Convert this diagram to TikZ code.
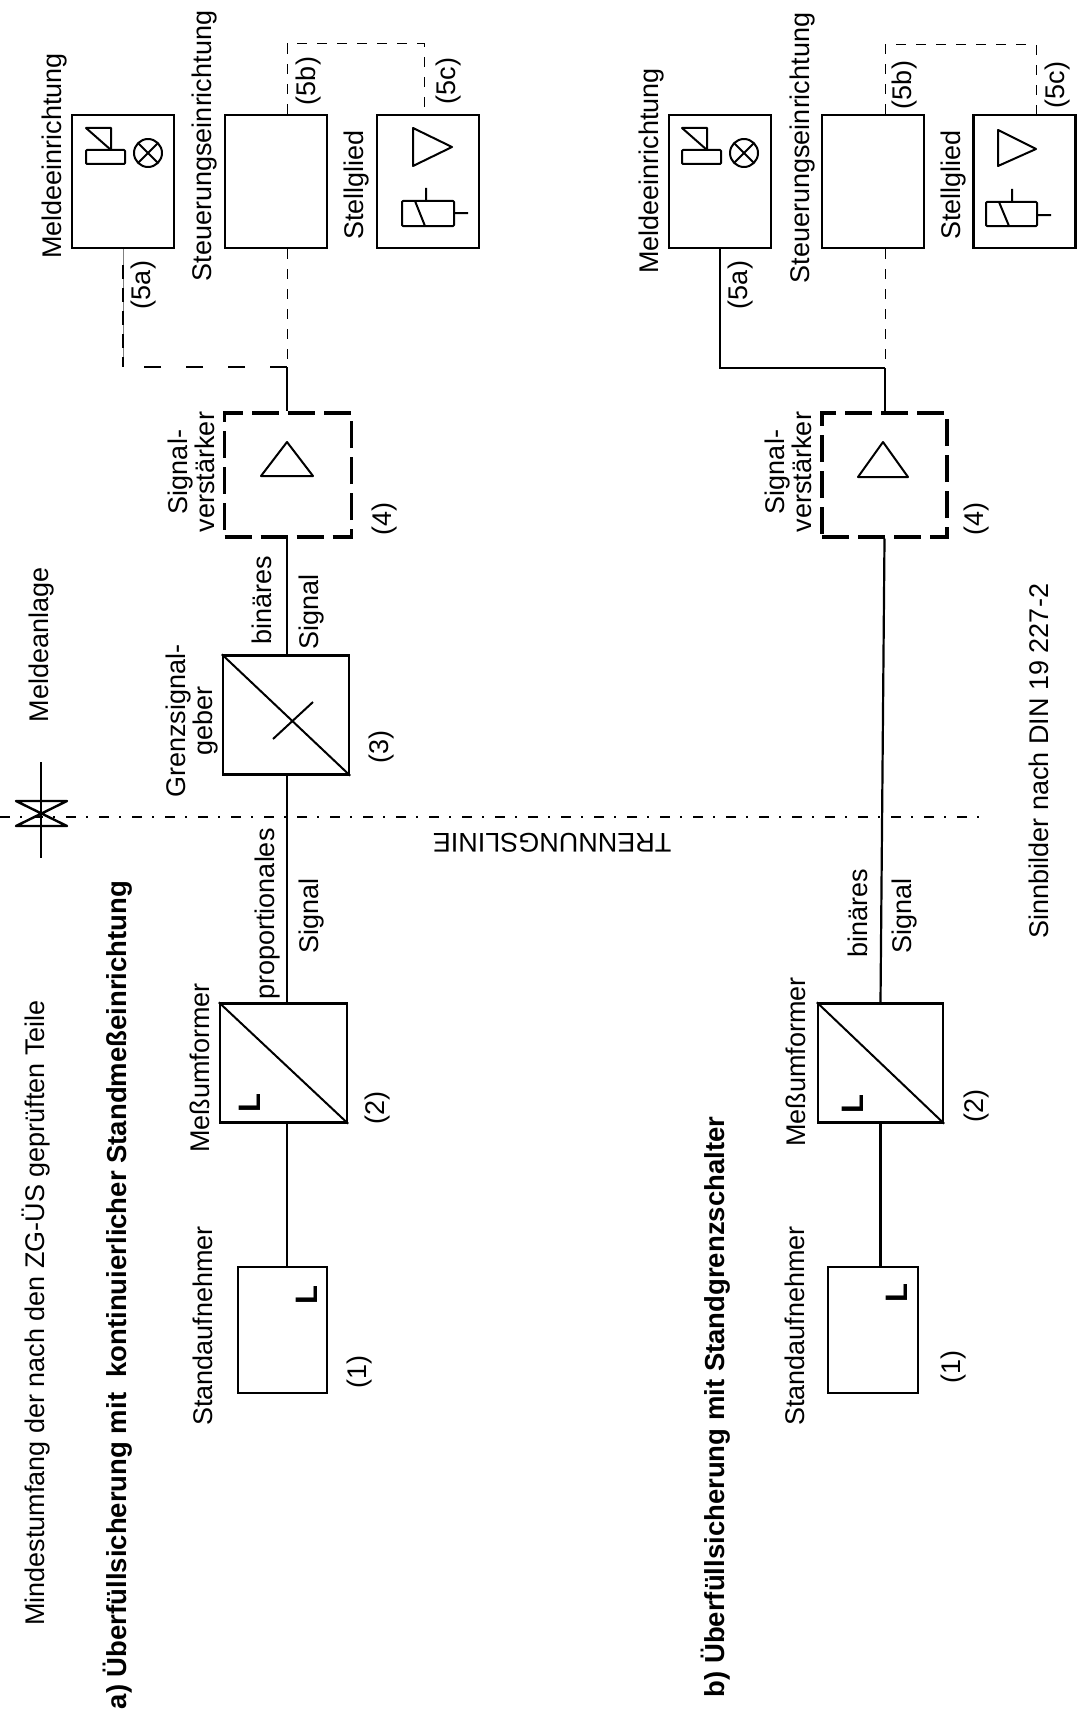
\documentclass[tikz,border=0pt]{standalone}
\usepackage{fontspec}
\setmainfont{Liberation Sans}
\usetikzlibrary{positioning,calc}

\begin{document}
\begin{tikzpicture}[x=1pt, y=-1pt,
  bx/.style={rectangle,draw,line width=2.3pt,inner sep=0pt,minimum width=102pt,minimum height=133pt},
  sq/.style={rectangle,draw,line width=2.3pt,inner sep=0pt,minimum width=#1,minimum height=119pt},
  amp/.style={rectangle,draw,line width=3.4pt,inner sep=0pt,minimum width=127pt,minimum height=124pt,dash pattern=on 27pt off 9pt},
  stand/.style={rectangle,draw,line width=2.3pt,inner sep=0pt,minimum width=89pt,minimum height=126pt},
  sig/.style={line width=2.2pt},
  thindash/.style={line width=1pt,dash pattern=on 10pt off 10pt},
  sym/.style={line width=2pt,line join=round},
  txt/.style={inner sep=0pt,align=center,font=\fontsize{27}{27}\selectfont},
  lbl/.style={txt,rotate=90},
  bigl/.style={rotate=90,inner sep=0pt,font=\bfseries\fontsize{31}{31}\selectfont},
  ttl/.style={rotate=90,inner sep=0pt,font=\bfseries\fontsize{27.5}{30}\selectfont}]
  \useasboundingbox (0,0) rectangle (1077,1715);
  % Top: texts
  \node[lbl] (umfang) at (36,1313) {Mindestumfang der nach den ZG-ÜS geprüften Teile};
  \node[ttl] (titleA) at (118,1295) {a) Überfüllsicherung mit\ \ kontinuierlicher Standmeßeinrichtung};
  \node[ttl] (titleB) at (716,1407) {b) Überfüllsicherung mit Standgrenzschalter};
  \node[lbl] (anlage) at (42,645) {Meldeanlage};
  \node[lbl] (sinn) at (1039,761) {Sinnbilder nach DIN 19 227-2};
  \node[txt,rotate=180] (trenn) at (552,843) {TRENNUNGSLINIE};
  % Separation line and its mark
  \coordinate (sepL) at (0,817);
  \coordinate (sepR) at (980,817);
  \draw[line width=1.6pt,dash pattern=on 10pt off 10pt on 2pt off 11pt] (sepL) -- (sepR);
  \coordinate (markT) at (41,762);
  \coordinate (markB) at (41,858);
  \draw[line width=2pt] (markT) -- (markB);
  \draw[line width=2.4pt,line join=round] (16,801) -- (67,801) -- (16,826) -- (67,826) -- cycle;
  % a) boxes
  \node[bx] (meldeA) at (123,181.5) {};
  \node[bx] (steuerA) at (276,181.5) {};
  \node[bx] (stellA) at (428,181.5) {};
  \node[amp] (ampA) at (288,475) {};
  \node[sq=126pt] (grenzA) at (286,715) {};
  \node[sq=127pt] (messA) at (283.5,1063) {};
  \node[stand] (standA) at (282.5,1330) {};
  % a) connectors
  \coordinate (jA) at (287,367);
  \coordinate (cornerA) at (123,367);
  \coordinate (topA) at (287,44);
  \coordinate (topAr) at (424,44);
  \draw[line width=0.4pt,gray] (meldeA.south) -- (cornerA);
  \draw[line width=2.2pt,dash pattern=on 14pt off 9pt] (meldeA.south) ++(0,16) -- (cornerA);
  \draw[line width=2.6pt,dash pattern=on 17pt off 25pt] (jA) -- (cornerA);
  \draw[thindash] (jA |- steuerA.south) -- (jA);
  \draw[thindash] (jA |- steuerA.north) -- (topA) -- (topAr) -- (topAr |- stellA.north);
  \draw[sig] (jA) -- (jA |- ampA.north);
  \draw[sig] (jA |- ampA.south) -- (jA |- grenzA.north);
  \draw[sig] (jA |- grenzA.south) -- (jA |- messA.north);
  \draw[sig] (jA |- messA.south) -- (jA |- standA.north);
  % a) symbols
  \draw[sym] (86,128) -- (111,128) -- (111,150) -- cycle;
  \draw[sym,rounded corners=1pt] (86,150) rectangle (125,164);
  \draw[sym] (148,153) circle (14);
  \draw[sym] (138,143) -- (158,163) (158,143) -- (138,163);
  \draw[sym] (413,128) -- (413,166) -- (452,147) -- cycle;
  \draw[sym,rounded corners=1pt] (402,201) rectangle (454,226);
  \draw[sym] (426,188) -- (426,201) (454,213) -- (468,213) (415,201) -- (425,226);
  \draw[sym] (261,476) -- (313,476) -- (287,442) -- cycle;
  \draw[sym] (grenzA.north west) -- (grenzA.south east);
  \draw[sym] (313,702) -- (273,739);
  \draw[sym] (messA.north west) -- (messA.south east);
  \node[bigl] (lA) at (250,1103) {L};
  \node[bigl] (lSA) at (307,1295) {L};
  % a) labels
  \node[lbl] (tMeldeA) at (55,156) {Meldeeinrichtung};
  \node[lbl] (tSteuerA) at (205,146) {Steuerungseinrichtung};
  \node[lbl] (tStellA) at (357,185) {Stellglied};
  \node[lbl] (n5aA) at (144,285) {(5a)};
  \node[lbl] (n5bA) at (309,81) {(5b)};
  \node[lbl] (n5cA) at (449,81) {(5c)};
  \node[lbl] (tAmpA) at (191,472) {Signal-\\verstärker};
  \node[lbl] (n4A) at (385,519) {(4)};
  \node[lbl] (binA) at (262,600) {binäres};
  \node[lbl] (sigA) at (312,612) {Signal};
  \node[lbl] (tGrenzA) at (192,721) {Grenzsignal-\\geber};
  \node[lbl] (n3A) at (382,747) {(3)};
  \node[lbl] (propA) at (268,914) {proportionales};
  \node[lbl] (sigpA) at (312,916) {Signal};
  \node[lbl] (tMessA) at (200,1068) {Meßumformer};
  \node[lbl] (n2A) at (378,1108) {(2)};
  \node[lbl] (tStandA) at (203,1326) {Standaufnehmer};
  \node[lbl] (n1A) at (360,1372) {(1)};
  % b) boxes
  \node[bx] (meldeB) at (720,181.5) {};
  \node[bx] (steuerB) at (873,181.5) {};
  \node[bx] (stellB) at (1024.5,181.5) {};
  \node[amp,minimum width=125pt] (ampB) at (884.5,475) {};
  \node[sq=125pt] (messB) at (880.5,1063) {};
  \node[stand,minimum width=90pt] (standB) at (873,1330) {};
  % b) connectors
  \coordinate (jB) at (885,368);
  \coordinate (cornerB) at (720,368);
  \coordinate (topB) at (885,45);
  \coordinate (topBr) at (1036,45);
  \draw[sig] (meldeB.south) -- (cornerB) -- (jB);
  \draw[thindash] (jB |- steuerB.south) -- (jB);
  \draw[thindash] (jB |- steuerB.north) -- (topB) -- (topBr) -- (topBr |- stellB.north);
  \draw[sig] (jB) -- (jB |- ampB.north);
  \draw[sig] (ampB.south) -- (messB.north);
  \draw[sig] (messB.south) -- (messB.south |- standB.north);
  % b) symbols
  \draw[sym] (682,128) -- (707,128) -- (707,150) -- cycle;
  \draw[sym,rounded corners=1pt] (682,150) rectangle (721,164);
  \draw[sym] (744,153) circle (14);
  \draw[sym] (734,143) -- (754,163) (754,143) -- (734,163);
  \draw[sym] (998,130) -- (998,166) -- (1036,149) -- cycle;
  \draw[sym,rounded corners=1pt] (986,202) rectangle (1037,226);
  \draw[sym] (1012,189) -- (1012,202) (1037,215) -- (1051,215) (999,202) -- (1009,226);
  \draw[sym] (858,477) -- (908,477) -- (883,442) -- cycle;
  \draw[sym] (messB.north west) -- (messB.south east);
  \node[bigl] (lB) at (853,1104) {L};
  \node[bigl] (lSB) at (897,1293) {L};
  % b) labels
  \node[lbl] (tMeldeB) at (652,171) {Meldeeinrichtung};
  \node[lbl] (tSteuerB) at (803,148) {Steuerungseinrichtung};
  \node[lbl] (tStellB) at (954,185) {Stellglied};
  \node[lbl] (n5aB) at (741,285) {(5a)};
  \node[lbl] (n5bB) at (904,85) {(5b)};
  \node[lbl] (n5cB) at (1057,85) {(5c)};
  \node[lbl] (tAmpB) at (788,472) {Signal-\\verstärker};
  \node[lbl] (n4B) at (976,519) {(4)};
  \node[lbl] (binB) at (858,913) {binäres};
  \node[lbl] (sigB) at (905,916) {Signal};
  \node[lbl] (tMessB) at (796,1062) {Meßumformer};
  \node[lbl] (n2B) at (976,1106) {(2)};
  \node[lbl] (tStandB) at (795,1326) {Standaufnehmer};
  \node[lbl] (n1B) at (953,1367) {(1)};
\end{tikzpicture}
\end{document}
